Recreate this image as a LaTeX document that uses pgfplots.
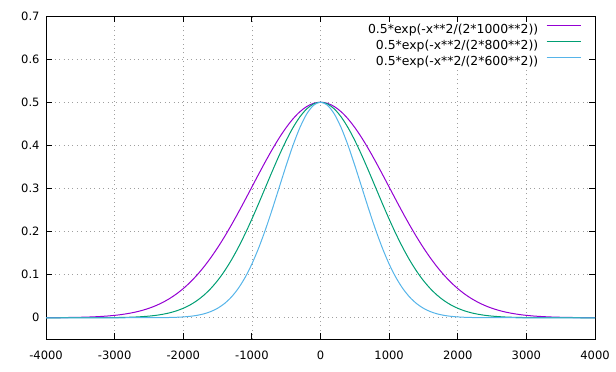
\documentclass[border=0pt]{standalone}
\usepackage{pgfplots}
\pgfplotsset{compat=1.18}
\usepackage{pgfplotstable}
\usepackage{fontspec}
\setmainfont{DejaVu Sans}
\definecolor{c1}{HTML}{9400D3}
\definecolor{c2}{HTML}{009E73}
\definecolor{c3}{HTML}{56B4E9}
\pgfplotstableread{
x a b c
-4000 0.000168 0.000002 0
-3900 0.000249 0.000003 0
-3800 0.000366 0.000006 0
-3700 0.000532 0.000011 0
-3600 0.000767 0.000020 0
-3500 0.001094 0.000035 0
-3400 0.001545 0.000060 0
-3300 0.002159 0.000101 0
-3200 0.002988 0.000168 0
-3100 0.004094 0.000275 0.000001
-3000 0.005554 0.000442 0.000002
-2900 0.007461 0.000701 0.000004
-2800 0.009921 0.001094 0.000009
-2700 0.013061 0.001681 0.000020
-2600 0.017023 0.002543 0.000042
-2500 0.021968 0.003788 0.000085
-2400 0.028067 0.005554 0.000168
-2300 0.035503 0.008019 0.000322
-2200 0.044461 0.011397 0.000602
-2100 0.055126 0.015947 0.001094
-2000 0.067668 0.021968 0.001933
-1900 0.082237 0.029793 0.003323
-1800 0.098949 0.039780 0.005554
-1700 0.117873 0.052290 0.009032
-1600 0.139019 0.067668 0.014283
-1500 0.162326 0.086211 0.021968
-1400 0.187655 0.108133 0.032865
-1300 0.214779 0.133526 0.047817
-1200 0.243376 0.162326 0.067668
-1100 0.273037 0.194280 0.093135
-1000 0.303265 0.228917 0.124676
-900 0.333488 0.265548 0.162326
-800 0.363075 0.303265 0.205556
-700 0.391352 0.340971 0.253168
-600 0.417635 0.377420 0.303265
-500 0.441248 0.411289 0.353324
-400 0.461558 0.441248 0.400368
-300 0.477999 0.466051 0.441248
-200 0.490099 0.484617 0.472980
-100 0.497506 0.496109 0.493104
0 0.5 0.5 0.5
100 0.497506 0.496109 0.493104
200 0.490099 0.484617 0.472980
300 0.477999 0.466051 0.441248
400 0.461558 0.441248 0.400368
500 0.441248 0.411289 0.353324
600 0.417635 0.377420 0.303265
700 0.391352 0.340971 0.253168
800 0.363075 0.303265 0.205556
900 0.333488 0.265548 0.162326
1000 0.303265 0.228917 0.124676
1100 0.273037 0.194280 0.093135
1200 0.243376 0.162326 0.067668
1300 0.214779 0.133526 0.047817
1400 0.187655 0.108133 0.032865
1500 0.162326 0.086211 0.021968
1600 0.139019 0.067668 0.014283
1700 0.117873 0.052290 0.009032
1800 0.098949 0.039780 0.005554
1900 0.082237 0.029793 0.003323
2000 0.067668 0.021968 0.001933
2100 0.055126 0.015947 0.001094
2200 0.044461 0.011397 0.000602
2300 0.035503 0.008019 0.000322
2400 0.028067 0.005554 0.000168
2500 0.021968 0.003788 0.000085
2600 0.017023 0.002543 0.000042
2700 0.013061 0.001681 0.000020
2800 0.009921 0.001094 0.000009
2900 0.007461 0.000701 0.000004
3000 0.005554 0.000442 0.000002
3100 0.004094 0.000275 0.000001
3200 0.002988 0.000168 0
3300 0.002159 0.000101 0
3400 0.001545 0.000060 0
3500 0.001094 0.000035 0
3600 0.000767 0.000020 0
3700 0.000532 0.000011 0
3800 0.000366 0.000006 0
3900 0.000249 0.000003 0
4000 0.000168 0.000002 0
}\data
\begin{document}
\begin{tikzpicture}
\begin{axis}[
  scale only axis, width=549bp, height=323.3bp,
  xmin=-4000, xmax=4000, ymin=-0.05, ymax=0.7,
  scaled ticks=false,
  xtick={-4000,-3000,-2000,-1000,0,1000,2000,3000,4000},
  xticklabels={-4000,-3000,-2000,-1000,0,1000,2000,3000,4000},
  ytick={0,0.1,0.2,0.3,0.4,0.5,0.6,0.7},
  yticklabels={0,0.1,0.2,0.3,0.4,0.5,0.6,0.7},
  tick align=inside, major tick length=6bp,
  tick style={black, line width=0.8bp},
  axis line style={black, line width=0.8bp},
  grid=major,
  grid style={gray!75, line width=0.7bp, dash pattern=on 1bp off 3.4bp},
  ticklabel style={font=\fontsize{11.5bp}{13bp}\selectfont},
  xticklabel style={yshift=-8.5bp},
  yticklabel style={xshift=-3bp},
  legend plot pos=right,
  legend cell align=right,
  legend image code/.code={\draw[#1, line width=1.3bp] (0bp,3.9bp) -- (34bp,3.9bp);},
  legend style={draw=none, fill=white, at={(rel axis cs:1,1)}, anchor=north east,
    xshift=-7.3bp, yshift=-6bp, inner xsep=6.3bp, inner ysep=2bp,
    row sep=4.8bp, column sep=7.7bp,
    font=\fontsize{12.4bp}{14bp}\selectfont,
    nodes={inner sep=0pt}},
]
\addplot[c1, line width=1bp, smooth] table[x=x, y=a] {\data};
\addlegendentry{\hspace{6bp}0.5*exp(-x**2/(2*1000**2))}
\addplot[c2, line width=1bp, smooth] table[x=x, y=b] {\data};
\addlegendentry{0.5*exp(-x**2/(2*800**2))}
\addplot[c3, line width=1bp, smooth] table[x=x, y=c] {\data};
\addlegendentry{0.5*exp(-x**2/(2*600**2))}
\end{axis}
\pgfresetboundingbox
\path ([xshift=-46bp,yshift=-31.7bp]current axis.south west) rectangle ([xshift=21bp,yshift=16bp]current axis.north east);
\end{tikzpicture}
\end{document}
